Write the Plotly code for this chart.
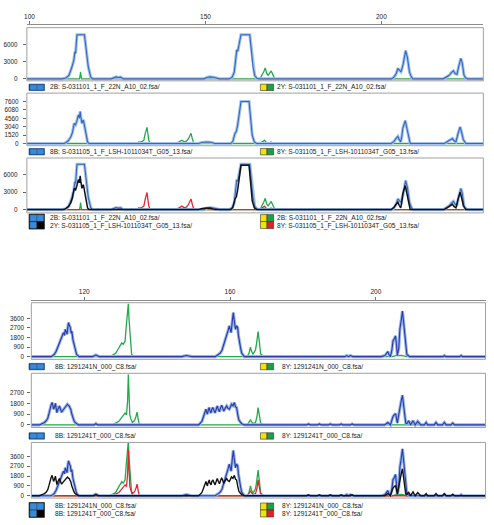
import plotly.graph_objects as go

W, H = 494, 525


def px(x):
    return x / W


def py(y):
    return 1 - y / H


# ---------------- DATA (bp, RFU) ----------------
# Top group: sample S-031101 (22N), blue and green dyes
N22_BLUE = [(99.2, 0), (109.3, 0), (110.3, 150), (111.2, 600), (112.0, 2000), (112.6, 3300), (112.9, 4800),
            (113.1, 4500), (113.3, 6300), (113.5, 7800), (115.6, 7800), (115.9, 6500), (116.2, 5100),
            (116.7, 2100), (117.4, 320), (117.9, 0),
            (123.2, 0), (124.0, 200), (124.6, 350), (125.2, 250), (125.9, 300), (126.6, 0),
            (149.6, 0), (150.4, 250), (151.3, 350), (152.3, 280), (153.2, 200), (154.0, 0),
            (156.8, 0), (157.6, 300), (158.2, 1200), (158.6, 3000), (158.9, 5100), (159.2, 4900),
            (159.6, 6300), (160.1, 7800), (162.6, 7800), (163.0, 5500), (163.5, 2200), (164.0, 600),
            (164.6, 100), (165.2, 0),
            (202.9, 0), (203.6, 300), (204.2, 900), (204.7, 1830), (205.1, 1500), (205.6, 1220),
            (206.2, 2600), (206.9, 4980), (207.4, 3800), (208.0, 1220), (208.5, 400), (208.9, 0),
            (217.6, 0), (218.5, 300), (219.3, 630), (219.9, 1100), (220.5, 1400), (221.0, 900),
            (221.5, 800), (222.0, 2200), (222.6, 3620), (223.0, 2800), (223.5, 630), (224.0, 150),
            (224.5, 0), (229.0, 0)]
N22_GREEN = [(99.2, 0), (114.2, 0), (114.4, 600), (114.5, 1220), (114.65, 500), (114.8, 0),
             (165.5, 0), (166.1, 630), (166.6, 1300), (167.0, 1940), (167.4, 1000), (167.8, 630),
             (168.3, 1100), (168.7, 1400), (169.2, 700), (169.7, 0), (229.0, 0)]

# Top group: sample S-031105 (LSH-1011034T)
LSH_BLUE = [(99.2, 0), (109.8, 0), (110.3, 150), (111.0, 500), (111.75, 1210), (112.2, 2000), (112.7, 3660),
            (113.1, 3400), (113.4, 3960), (113.9, 5190), (114.2, 4600), (114.4, 5790), (114.6, 4800),
            (114.9, 3660), (115.3, 4270), (115.8, 2440), (116.2, 1200), (116.5, 290), (116.9, 0),
            (148.0, 0), (149.0, 200), (150.2, 280), (151.5, 220), (152.7, 0),
            (157.2, 0), (157.8, 400), (158.4, 1830), (158.8, 2200), (159.2, 3500), (159.5, 4950),
            (159.8, 6400), (160.1, 7600), (162.4, 7600), (162.8, 4500), (163.3, 1500), (163.9, 300),
            (164.5, 0),
            (202.8, 0), (203.6, 400), (204.2, 915), (204.7, 1280), (205.1, 700), (205.5, 300),
            (205.8, 1200), (206.1, 2745), (206.8, 4130), (207.1, 3300), (207.5, 1830), (207.9, 500),
            (208.2, 0),
            (217.9, 0), (219.3, 500), (219.8, 700), (220.2, 900), (220.7, 500), (221.2, 300),
            (221.8, 1800), (222.4, 3000), (222.9, 1800), (223.3, 700), (224.0, 0), (229.0, 0)]
LSH_GREEN = [(99.2, 0), (130.7, 0), (131.0, 290), (131.5, 250), (132.0, 400), (132.5, 600), (132.9, 1830),
             (133.4, 2930), (133.7, 1500), (133.9, 600), (134.3, 0),
             (141.4, 0), (142.5, 300), (143.3, 600), (144.1, 250), (144.7, 500), (145.2, 915),
             (145.9, 1830), (146.3, 800), (146.6, 250), (147.1, 0),
             (165.8, 0), (166.1, 290), (166.8, 600), (167.3, 200), (167.8, 0), (168.2, 150),
             (168.6, 290), (169.4, 0), (229.0, 0)]

# Bottom group: sample 1291241N
N_BLUE = [(105.5, 0), (110.9, 0), (111.4, 100), (111.8, 220), (112.3, 500), (112.7, 850), (113.1, 1200),
          (113.6, 1630), (114.0, 1900), (114.3, 2250), (114.6, 2000), (114.8, 2570), (115.1, 2300),
          (115.3, 2100), (115.5, 2800), (115.7, 3200), (115.95, 2900), (116.2, 2730), (116.4, 2200),
          (116.6, 2400), (116.9, 1600), (117.3, 1000), (117.6, 500), (117.9, 220), (118.6, 0),
          (122.3, 0), (123.2, 150), (124.1, 0),
          (146.8, 0), (148.0, 100), (149.5, 0),
          (155.9, 0), (156.6, 150), (157.3, 330), (157.8, 600), (158.2, 1000), (158.6, 1600),
          (159.1, 2100), (159.5, 2500), (159.8, 2900), (160.05, 2500), (160.3, 2250), (160.6, 3300),
          (160.9, 4140), (161.2, 3300), (161.5, 2570), (161.8, 2900), (162.1, 2730), (162.3, 2000),
          (162.5, 1450), (162.9, 800), (163.2, 330), (163.9, 0),
          (191.5, 0), (192.0, 100), (192.5, 0), (193.0, 100), (193.7, 0),
          (201.5, 0), (202.5, 100), (203.3, 470), (203.6, 200), (204.0, 0), (204.4, 600), (204.7, 1470),
          (205.1, 1700), (205.4, 1950), (205.7, 1000), (205.9, 150), (206.3, 800), (206.6, 2600),
          (207.0, 3500), (207.3, 4290), (207.6, 3300), (207.9, 2200), (208.2, 900), (208.5, 200),
          (209.3, 0),
          (218.4, 0), (218.8, 100), (219.2, 0), (223.0, 0), (223.4, 100), (223.8, 0), (230.1, 0)]
N_GREEN = [(105.5, 0), (126.8, 0), (127.8, 150), (128.6, 300), (129.2, 650), (129.7, 1000), (130.3, 1300),
           (130.7, 1150), (131.2, 1450), (131.5, 2730), (131.8, 3900), (132.1, 4980), (132.3, 3500),
           (132.5, 2730), (132.8, 1000), (133.0, 220), (133.6, 0),
           (164.7, 0), (165.2, 300), (165.6, 900), (165.9, 500), (166.3, 250), (166.6, 400), (167.0, 650),
           (167.3, 1300), (167.7, 2350), (168.0, 1500), (168.4, 250), (169.3, 0),
           (204.5, 0), (205.5, 100), (207.0, 120), (208.5, 0), (230.1, 0)]

# Bottom group: sample 1291241T
T_BLUE = [(105.5, 0), (107.7, 0), (108.4, 100), (109.1, 200), (109.6, 350), (110.0, 560), (110.3, 900),
          (110.6, 1450), (110.9, 1650), (111.2, 1870), (111.4, 1600), (111.6, 1310), (111.9, 1550),
          (112.1, 1800), (112.3, 1400), (112.5, 1030), (112.8, 1300), (113.2, 1580), (113.5, 1300),
          (113.8, 1060), (114.1, 1200), (114.4, 1310), (114.7, 1400), (115.0, 1540), (115.2, 1650),
          (115.4, 1720), (115.7, 1600), (115.9, 1580), (116.1, 1400), (116.3, 1310), (116.6, 900),
          (116.8, 640), (117.2, 350), (117.5, 200), (118.4, 0),
          (122.7, 0), (123.2, 100), (123.7, 0),
          (151.4, 0), (152.3, 300), (152.6, 550), (152.9, 850), (153.2, 1100), (153.4, 1310),
          (153.6, 1050), (153.8, 900), (154.0, 1200), (154.3, 1450), (154.5, 1150), (154.8, 1000),
          (155.0, 1300), (155.3, 1450), (155.6, 1200), (155.9, 1000), (156.2, 1300), (156.5, 1580),
          (156.8, 1300), (157.1, 1100), (157.4, 1400), (157.7, 1640), (158.0, 1400), (158.3, 1150),
          (158.7, 1400), (159.1, 1580), (159.4, 1400), (159.8, 1310), (160.1, 1500), (160.4, 1720),
          (160.8, 1600), (161.2, 1860), (161.5, 1500), (161.8, 1450), (162.1, 900), (162.4, 430),
          (162.8, 250), (163.2, 100), (163.9, 0),
          (181.0, 0), (181.5, 80), (182.0, 0), (184.0, 0), (184.5, 80), (185.0, 0), (187.0, 0),
          (187.5, 80), (188.0, 0), (190.0, 0), (190.5, 80), (191.0, 0), (193.0, 0), (193.5, 80),
          (194.0, 0),
          (202.4, 0), (203.3, 200), (204.0, 0), (204.4, 350), (204.7, 700), (205.1, 850), (205.4, 950),
          (205.7, 500), (205.9, 150), (206.2, 700), (206.5, 1310), (206.9, 1900), (207.3, 2475),
          (207.6, 1500), (207.9, 500), (208.2, 150), (208.5, 100), (209.0, 350), (209.5, 0),
          (210.2, 350), (210.8, 0), (211.5, 300), (212.3, 0), (213.3, 0), (213.8, 200), (214.2, 0),
          (216.0, 0), (216.5, 200), (217.0, 0), (218.3, 0), (218.8, 200), (219.3, 0), (220.6, 0),
          (221.1, 150), (221.6, 0), (230.1, 0)]
T_GREEN = [(105.5, 0), (127.7, 0), (128.6, 150), (129.5, 300), (130.0, 500), (130.4, 700), (130.8, 850),
           (131.2, 990), (131.6, 850), (131.9, 2000), (132.1, 4200), (132.3, 2500), (132.5, 850),
           (132.8, 500), (133.2, 200), (133.6, 300), (133.9, 430), (134.2, 700), (134.5, 1070),
           (134.8, 500), (135.0, 150), (135.4, 0),
           (164.7, 0), (165.6, 420), (166.0, 150), (166.3, 100), (167.0, 200), (167.4, 700),
           (167.7, 1450), (168.0, 800), (168.4, 150), (169.3, 0), (230.1, 0)]

TOP_XTICKS = [100, 150, 200]
BOT_XTICKS = [120, 160, 200]
P1_YTICKS = [0, 3000, 6000]
P2_YTICKS = [0, 1520, 3040, 4560, 6080, 7600]
P3_YTICKS = [0, 3000, 6000]
P4_YTICKS = [0, 900, 1800, 2700, 3600]
P5_YTICKS = [0, 900, 1800, 2700]
P6_YTICKS = [0, 900, 1800, 2700, 3600]

LEG = {
    1: (["2B: S-031101_1_F_22N_A10_02.fsa/"], ["2Y: S-031101_1_F_22N_A10_02.fsa/"]),
    2: (["8B: S-031105_1_F_LSH-1011034T_G05_13.fsa/"], ["8Y: S-031105_1_F_LSH-1011034T_G05_13.fsa/"]),
    3: (["2B: S-031101_1_F_22N_A10_02.fsa/", "2Y: S-031105_1_F_LSH-1011034T_G05_13.fsa/"],
        ["2B: S-031101_1_F_22N_A10_02.fsa/", "8Y: S-031105_1_F_LSH-1011034T_G05_13.fsa/"]),
    4: (["8B: 1291241N_000_C8.fsa/"], ["8Y: 1291241N_000_C8.fsa/"]),
    5: (["8B: 1291241T_000_C8.fsa/"], ["8Y: 1291241T_000_C8.fsa/"]),
    6: (["8B: 1291241N_000_C8.fsa/", "8B: 1291241T_000_C8.fsa/"],
        ["8Y: 1291241N_000_C8.fsa/", "8Y: 1291241T_000_C8.fsa/"]),
}

# ---------------- STYLE ----------------
FONT = "Liberation Sans, Arial, sans-serif"
GREEN = "#23a84a"
RED = "#e3262b"
BLACK = "#111111"
TOP_BLUE, TOP_BLUE_OUT = "#3567bd", "#a3c3ec"
BOT_BLUE, BOT_BLUE_OUT = "#2c3aa3", "#93b3ea"

fig = go.Figure()


def add_dye(pairs, xa, ya, color, width, outline=None):
    xs = [p[0] for p in pairs]
    ys = [p[1] for p in pairs]
    if outline:
        fig.add_trace(go.Scatter(x=xs, y=ys, xaxis=xa, yaxis=ya, mode="lines",
                                 line=dict(color=outline, width=width + 2.0),
                                 hoverinfo="skip", showlegend=False))
    fig.add_trace(go.Scatter(x=xs, y=ys, xaxis=xa, yaxis=ya, mode="lines",
                             line=dict(color=color, width=width), showlegend=False))


# panel 1
add_dye(N22_GREEN, "x", "y", GREEN, 1.3)
add_dye(N22_BLUE, "x", "y", TOP_BLUE, 1.1, TOP_BLUE_OUT)
# panel 2
add_dye(LSH_GREEN, "x", "y2", GREEN, 1.3)
add_dye(LSH_BLUE, "x", "y2", TOP_BLUE, 1.1, TOP_BLUE_OUT)
# panel 3
add_dye(N22_GREEN, "x", "y3", GREEN, 1.3)
add_dye(LSH_GREEN, "x", "y3", RED, 1.3)
add_dye(N22_BLUE, "x", "y3", TOP_BLUE, 1.1, TOP_BLUE_OUT)
add_dye(LSH_BLUE, "x", "y3", BLACK, 1.5)
# panel 4
add_dye(N_GREEN, "x2", "y4", GREEN, 1.3)
add_dye(N_BLUE, "x2", "y4", BOT_BLUE, 1.1, BOT_BLUE_OUT)
# panel 5
add_dye(T_GREEN, "x2", "y5", GREEN, 1.3)
add_dye(T_BLUE, "x2", "y5", BOT_BLUE, 1.1, BOT_BLUE_OUT)
# panel 6
add_dye(N_GREEN, "x2", "y6", GREEN, 1.3)
add_dye(T_GREEN, "x2", "y6", RED, 1.3)
add_dye(N_BLUE, "x2", "y6", BOT_BLUE, 1.1, BOT_BLUE_OUT)
add_dye(T_BLUE, "x2", "y6", BLACK, 1.4)

TOP_X = (24.0, 483.3)
BOT_X = (28.5, 485.5)
# (top_px, bottom_px, yrange, ticks, xaxis, xpx, label standoff)
PANELS = {
    1: (27.7, 81.0, [-353, 9048], P1_YTICKS, "x", TOP_X, 4),
    2: (93.3, 146.0, [-397, 9115], P2_YTICKS, "x", TOP_X, 3),
    3: (158.3, 213.3, [-566, 8863], P3_YTICKS, "x", TOP_X, 4),
    4: (303.3, 360.0, [-254, 5075], P4_YTICKS, "x2", BOT_X, 2),
    5: (374.0, 428.3, [-217, 4308], P5_YTICKS, "x2", BOT_X, 2),
    6: (443.3, 499.0, [-210, 4880], P6_YTICKS, "x2", BOT_X, 2),
}

layout = dict(
    width=W, height=H, margin=dict(l=0, r=0, t=0, b=0),
    paper_bgcolor="white", plot_bgcolor="white", showlegend=False,
    font=dict(family=FONT, color="#222"),
    xaxis=dict(domain=[px(TOP_X[0]), px(TOP_X[1])], range=[99.24, 229.0], anchor="free",
               position=py(24.3), side="top", tickvals=TOP_XTICKS, showline=True,
               linecolor="#8c8c8c", linewidth=1.2, ticks="outside", ticklen=3, tickcolor="#777",
               tickfont=dict(size=6.5, color="#222"), showgrid=False, zeroline=False),
    xaxis2=dict(domain=[px(BOT_X[0]), px(BOT_X[1])], range=[105.49, 230.1], anchor="free",
                position=py(300.7), side="top", tickvals=BOT_XTICKS, showline=True,
                linecolor="#8c8c8c", linewidth=1.2, ticks="outside", ticklen=3, tickcolor="#777",
                tickfont=dict(size=6.5, color="#222"), showgrid=False, zeroline=False),
)

shapes = []
annotations = []
for i, (top, bot, yr, tv, xa, xpx, so) in PANELS.items():
    key = "yaxis" if i == 1 else "yaxis%d" % i
    layout[key] = dict(domain=[py(bot), py(top)], range=yr, anchor=xa, tickvals=tv,
                       ticks="outside", ticklen=3, tickcolor="#666", showline=False,
                       ticklabelstandoff=so,
                       showgrid=False, zeroline=False, tickfont=dict(size=6.3, color="#222"))
    shapes.append(dict(type="rect", xref="paper", yref="paper", x0=px(xpx[0]), x1=px(xpx[1]),
                       y0=py(bot), y1=py(top), line=dict(color="#a0a0a0", width=1)))


# legend icons and text
def rect(x0, y0, x1, y1, fill, line="#333"):
    shapes.append(dict(type="rect", xref="paper", yref="paper", x0=px(x0), x1=px(x1),
                       y0=py(y1), y1=py(y0), fillcolor=fill, line=dict(color=line, width=0.6)))


def text(x, y, s):
    annotations.append(dict(x=px(x), y=py(y), xref="paper", yref="paper", text=s, showarrow=False,
                            xanchor="left", yanchor="middle",
                            font=dict(size=6.6, family=FONT, color="#222")))


LEG_POS = {  # y of legend line(s), left text x, right text x
    1: ([87.5], 45, 274),
    2: ([152.0], 45, 274),
    3: ([218.0, 226.0], 45, 274),
    4: ([367.3], 50, 279),
    5: ([436.8], 50, 279),
    6: ([507.3, 514.6], 50, 279),
}
for i, (ys, lx, rx) in LEG_POS.items():
    left, right = LEG[i]
    if len(ys) == 1:
        yc = ys[0]
        rect(26.2, yc - 3.2, 41.7, yc + 3.2, "#0f3f7c", "#0f3f7c")
        rect(27.5, yc - 2.2, 33.6, yc + 2.2, "#3c8ad6", "#3c8ad6")
        rect(34.6, yc - 2.2, 40.6, yc + 2.2, "#3c8ad6", "#3c8ad6")
        rect(259.0, yc - 3.2, 265.6, yc + 3.2, "#f2e400")
        rect(265.6, yc - 3.2, 272.3, yc + 3.2, "#1f9e4a")
    else:
        yc = (ys[0] + ys[1]) / 2
        rect(26.2, yc - 7.5, 41.7, yc + 7.5, "#111111", "#111111")
        rect(27.3, yc - 6.5, 33.6, yc - 0.6, "#3c8ad6", "#3c8ad6")
        rect(34.4, yc - 6.5, 40.6, yc - 0.6, "#3c8ad6", "#3c8ad6")
        rect(27.3, yc + 0.6, 33.6, yc + 6.5, "#3c8ad6", "#3c8ad6")
        rect(34.4, yc + 0.6, 40.6, yc + 6.5, "#050505", "#050505")
        rect(259.0, yc - 7.0, 265.6, yc, "#f2e400")
        rect(265.6, yc - 7.0, 272.3, yc, "#1f9e4a")
        rect(259.0, yc, 265.6, yc + 7.0, "#f2e400")
        rect(265.6, yc, 272.3, yc + 7.0, "#d9252a")
    for s, y in zip(left, ys):
        text(lx, y, s)
    for s, y in zip(right, ys):
        text(rx, y, s)

layout["shapes"] = shapes
layout["annotations"] = annotations
fig.update_layout(**layout)
fig.write_html("out.html")
